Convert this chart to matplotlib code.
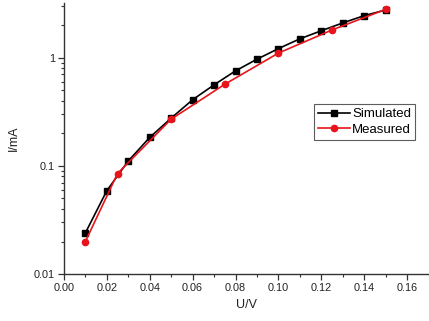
import matplotlib
matplotlib.use('Agg')
import matplotlib.pyplot as plt
from matplotlib.ticker import FixedLocator, FormatStrFormatter, LogLocator, NullFormatter

plt.rcParams['font.family'] = ['Liberation Sans', 'DejaVu Sans']

# simulated I-V curve (square markers)
sim_u = [0.01, 0.02, 0.03, 0.04, 0.05, 0.06, 0.07, 0.08, 0.09, 0.10, 0.11, 0.12, 0.13, 0.14, 0.15]
sim_i = [0.024, 0.059, 0.111, 0.183, 0.276, 0.408, 0.56, 0.754, 0.966, 1.21, 1.49, 1.77, 2.09, 2.44, 2.75]

# measured I-V curve (round markers)
meas_u = [0.01, 0.025, 0.05, 0.075, 0.10, 0.125, 0.15]
meas_i = [0.020, 0.085, 0.270, 0.567, 1.10, 1.80, 2.79]

x_ticks = [0.00, 0.02, 0.04, 0.06, 0.08, 0.10, 0.12, 0.14, 0.16]
y_ticks = [0.01, 0.1, 1]
y_tick_labels = ['0.01', '0.1', '1']

fig = plt.figure(figsize=(4.29, 3.21), dpi=100)
ax = fig.add_axes([0.149, 0.146, 0.851, 0.845])

ax.plot(sim_u, sim_i, color='black', lw=1.2, marker='s', ms=3.8, label='Simulated')
ax.plot(meas_u, meas_i, color='#e8141b', lw=1.2, marker='o', ms=4.5, label='Measured')

ax.set_yscale('log')
ax.set_xlim(0, 0.1702)
ax.set_ylim(0.01, 3.2)

ax.xaxis.set_major_locator(FixedLocator(x_ticks))
ax.xaxis.set_minor_locator(FixedLocator([0.01 + 0.02 * k for k in range(9)]))
ax.xaxis.set_major_formatter(FormatStrFormatter('%.2f'))
ax.yaxis.set_major_locator(FixedLocator(y_ticks))
ax.set_yticklabels(y_tick_labels)
ax.yaxis.set_minor_locator(LogLocator(base=10, subs=range(2, 10)))
ax.yaxis.set_minor_formatter(NullFormatter())

for side in ['top', 'right']:
    ax.spines[side].set_visible(False)
for side in ['left', 'bottom']:
    ax.spines[side].set_color('#333333')
    ax.spines[side].set_linewidth(1.0)

ax.tick_params(which='major', direction='out', length=4, width=0.9, colors='#333333',
               labelsize=7.8, labelcolor='#222222', pad=2.5)
ax.tick_params(which='minor', direction='out', length=2.2, width=0.8, colors='#333333')

ax.set_xlabel('U/V', fontsize=9, color='#222222', labelpad=4)
ax.set_ylabel('I/mA', fontsize=9, color='#222222', labelpad=10)

leg = ax.legend(loc='upper left', bbox_to_anchor=(0.685, 0.627), fontsize=9.5, frameon=True,
                fancybox=False, edgecolor='#333333', borderpad=0.3, labelspacing=0.25,
                handlelength=2.4, handletextpad=0.2, borderaxespad=0)
leg.get_frame().set_linewidth(0.8)

fig.savefig('out.png', dpi=100)
